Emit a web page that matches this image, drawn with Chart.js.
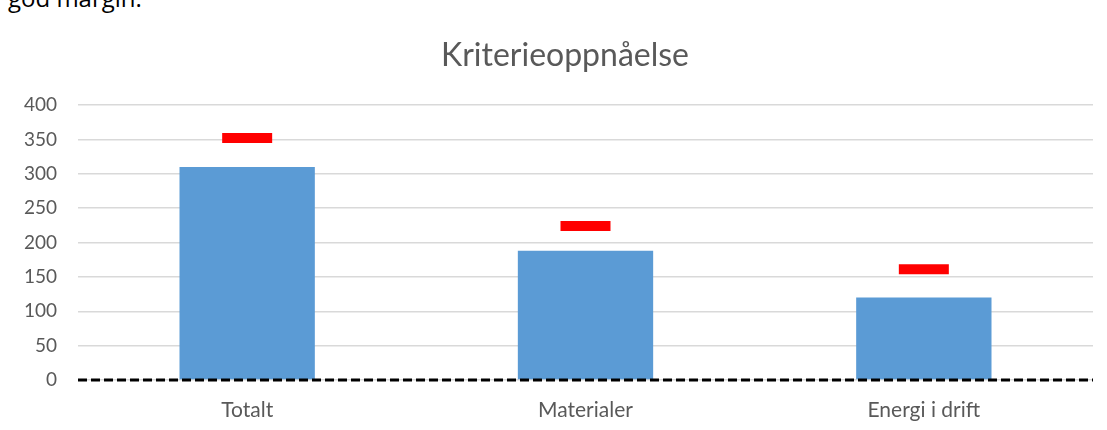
<!DOCTYPE html>
<html>
<head>
<meta charset="utf-8">
<script src="https://cdn.jsdelivr.net/npm/chart.js@4"></script>
<style>
  html, body { margin: 0; padding: 0; background: #fff; }
  #wrap { position: absolute; left: 0; top: 0; width: 1107px; height: 430px; overflow: hidden; }
  #over { position: absolute; left: 8px; top: -19px; font-family: 'Open Sans', sans-serif; font-size: 24px; color: #000; }
  #tittel { position: absolute; left: 0; top: 35px; width: 1130px; text-align: center; font-family: 'Lato', sans-serif; font-size: 32px; line-height: 38.4px; color: #595959; }
  canvas { position: absolute; left: 0; top: 0; }
</style>
</head>
<body>
<div id="wrap">
  <div id="over">god margin.</div>
  <canvas id="chart" width="1107" height="430"></canvas>
  <div id="tittel">Kriterieoppnåelse</div>
</div>
<script>
// Kategorier og verdier
const kategorier = ['Totalt', 'Materialer', 'Energi i drift'];
const oppnadd = [310, 188, 120];   // blå søyler
const krav = [352, 224, 161];      // røde streker
const yTicks = [0, 50, 100, 150, 200, 250, 300, 350, 400];

const tekstFarge = '#595959';

// stiplet grunnlinje ved 0 (border.dash gjelder bare gridlinjer)
const nullLinje = {
    id: 'nullLinje',
    afterDatasetsDraw(chart) {
        const { ctx, chartArea, scales } = chart;
        const y = scales.y.getPixelForValue(0);
        ctx.save();
        ctx.strokeStyle = '#000';
        ctx.lineWidth = 3;
        ctx.setLineDash([9, 4]);
        ctx.beginPath();
        ctx.moveTo(chartArea.left, y);
        ctx.lineTo(chartArea.right, y);
        ctx.stroke();
        ctx.restore();
    }
};

new Chart(document.getElementById('chart'), {
    type: 'bar',
    data: {
        labels: kategorier,
        datasets: [{
            label: 'Oppnådd',
            data: oppnadd,
            backgroundColor: '#5b9bd5',
            categoryPercentage: 1,
            barPercentage: 0.4,
            order: 2
        }, {
            type: 'line',
            label: 'Krav',
            data: krav,
            showLine: false,
            pointStyle: 'line',
            pointRadius: 25,
            pointHoverRadius: 25,
            pointBorderWidth: 10,
            pointHoverBorderWidth: 10,
            pointBorderColor: '#ff0000',
            borderColor: '#ff0000',
            order: 1
        }]
    },
    plugins: [nullLinje],
    options: {
        responsive: false,
        animation: false,
        layout: { autoPadding: false, padding: { left: 0, right: 14, top: 105, bottom: 0 } },
        plugins: {
            legend: { display: false },
            tooltip: { enabled: false },
            title: { display: false }
        },
        scales: {
            y: {
                min: 0,
                max: 400,
                afterBuildTicks: (scale) => { scale.ticks = yTicks.map(v => ({ value: v })); },
                afterFit: (scale) => { scale.width = 78; scale.paddingTop = 0; scale.paddingBottom = 0; },
                grid: { color: '#d9d9d9', lineWidth: 1.5, drawTicks: false },
                border: { display: false },
                ticks: { color: tekstFarge, padding: 21, font: { family: 'Lato', size: 19 } }
            },
            x: {
                afterFit: (scale) => { scale.height = 50; scale.paddingLeft = 0; scale.paddingRight = 0; },
                grid: { display: false, drawTicks: false },
                border: { display: false },
                ticks: { color: tekstFarge, padding: 18, font: { family: 'Lato', size: 21 } }
            }
        }
    }
});
</script>
</body>
</html>
